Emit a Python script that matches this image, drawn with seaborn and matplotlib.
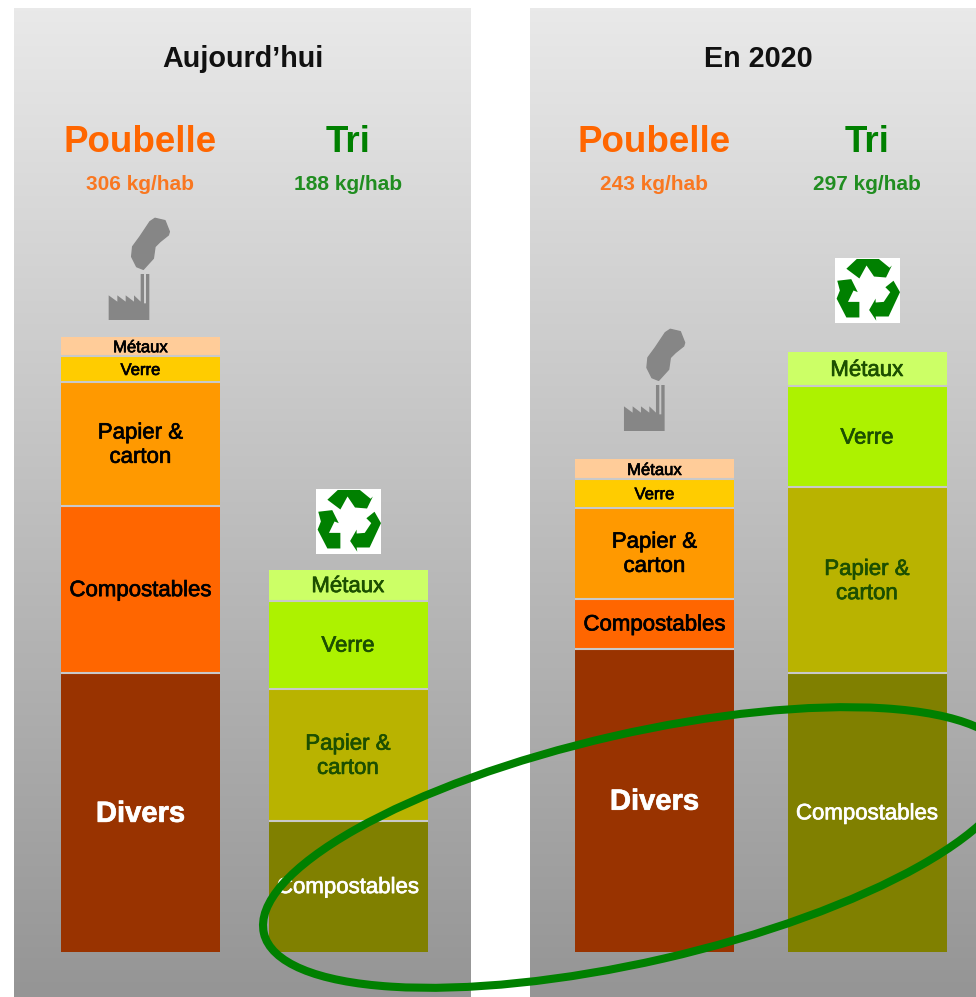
import numpy as np
import pandas as pd
import matplotlib
matplotlib.use("Agg")
import matplotlib.pyplot as plt
import matplotlib.patheffects as pe
from matplotlib.colors import LinearSegmentedColormap
from matplotlib.patches import Ellipse, Polygon, Rectangle
import seaborn as sns

# values, kg per inhabitant
layers = ["Divers", "Compostables", "Papier &\ncarton", "Verre", "Métaux"]
today_poubelle = [138, 83, 61, 13, 9.5]
today_tri = [0, 65, 65, 44, 15]
future_poubelle = [150, 25, 45, 14, 10]
future_tri = [0, 138, 92, 50, 17]

panel_titles = ["Aujourd’hui", "En 2020"]
stream_names = ["Poubelle", "Tri"]
today_totals = ["306 kg/hab", "188 kg/hab"]
future_totals = ["243 kg/hab", "297 kg/hab"]

poubelle_colors = ["#993300", "#ff6600", "#ff9900", "#ffcc00", "#ffcc99"]
tri_colors = ["#808000", "#808000", "#b9b300", "#adf200", "#ccff66"]
poubelle_text = ["white", "black", "black", "black", "black"]
tri_text = ["white", "white", "#1c4f00", "#1c4f00", "#1c4f00"]
ORANGE = "#ff6600"
GREEN = "#008000"

W, H = 976, 997
PX_PER_KG = 2.02
BASE_Y = 952
PANEL_TOP = 8

sns.set_theme(style="white")
plt.rcParams["font.family"] = ["Liberation Sans", "DejaVu Sans"]

fig = plt.figure(figsize=(W / 100, H / 100), dpi=100, facecolor="white")
grey_map = LinearSegmentedColormap.from_list("bg", ["#e9e9e9", "#959595"])


def label_size(j, value):
    # thin pieces carry smaller text, Divers is the big one
    if j == 0:
        return 21
    if value <= 14 and j >= 3:
        return 12
    return 16


def draw_panel(left, right, first_bar, bar_step, poubelle, tri, title, totals):
    ax = fig.add_axes([left / W, 0, (right - left) / W, (H - PANEL_TOP) / H])
    ylim = ((BASE_Y - H) / PX_PER_KG, (BASE_Y - PANEL_TOP) / PX_PER_KG)
    ax.imshow(np.linspace(0, 1, 256).reshape(-1, 1), cmap=grey_map, aspect="auto",
              extent=[-5, 5, ylim[0], ylim[1]], zorder=0, vmin=0, vmax=1)
    half = 159 / bar_step / 2
    for i, (stream, values, colors, text_colors) in enumerate(
            [("Poubelle", poubelle, poubelle_colors, poubelle_text),
             ("Tri", tri, tri_colors, tri_text)]):
        bottom = 0
        for j, value in enumerate(values):
            if value == 0:
                continue
            layer = pd.DataFrame({"stream": [stream], "kg": [value]})
            sns.barplot(data=layer, x="stream", y="kg", order=stream_names, color=colors[j],
                        saturation=1, width=2 * half, bottom=bottom, ax=ax, linewidth=0, zorder=2)
            if bottom > 0:
                ax.hlines(bottom, i - half, i + half, color="#c9c9c9", lw=1.5, zorder=2.5)
            weight = "bold" if j == 0 else "normal"
            ax.text(i, bottom + value / 2 - 0.6, layers[j], ha="center", va="center", color=text_colors[j],
                    fontsize=label_size(j, value), fontweight=weight, zorder=3, linespacing=1.2,
                    path_effects=[pe.withStroke(linewidth=0.5, foreground=text_colors[j])])
            bottom += value
    ax.set_xlim((left - first_bar) / bar_step, (right - first_bar) / bar_step)
    ax.set_ylim(*ylim)
    ax.set_axis_off()

    def frac(py):
        return (H - py) / (H - PANEL_TOP)

    trans = ax.get_xaxis_transform()
    mid = (left + 228.5 - first_bar) / bar_step
    ax.text(mid, frac(59), title, transform=trans, ha="center", va="center",
            fontsize=20.7, fontweight="bold", color="#111111")
    for i, (name, color) in enumerate(zip(stream_names, [ORANGE, GREEN])):
        ax.text(i, frac(142), name, transform=trans, ha="center", va="center",
                fontsize=26.5, fontweight="bold", color=color)
        ax.text(i, frac(184), totals[i], transform=trans, ha="center", va="center",
                fontsize=15, fontweight="bold", color=color, alpha=0.85)


draw_panel(14, 471, 140.5, 207.5, today_poubelle, today_tri, panel_titles[0], today_totals)
draw_panel(530, 976, 654.5, 212.5, future_poubelle, future_tri, panel_titles[1], future_totals)

# overlay in pixel coordinates for the pictograms and the ellipse
over = fig.add_axes([0, 0, 1, 1], zorder=10)
over.set_xlim(0, W)
over.set_ylim(H, 0)
over.set_axis_off()
over.patch.set_alpha(0)

SMOKE_GREY = "#868686"
smoke = np.array([(345, 55), (375, 62), (388, 95), (385, 105), (360, 125), (345, 140), (340, 175),
                  (310, 208), (290, 200), (275, 170), (278, 140), (300, 110), (330, 65)]) / 3 + (40, 200)
factory = np.array([(206, 360), (206, 286), (232, 305), (232, 286), (257, 305), (257, 286), (282, 305),
                    (282, 286), (302, 305), (302, 222), (312, 222), (312, 310), (318, 310), (318, 222),
                    (328, 222), (328, 360)]) / 3 + (40, 200)


def draw_factory(dx, dy):
    over.add_patch(Polygon(smoke + (dx, dy), closed=True, fc=SMOKE_GREY, ec=SMOKE_GREY, lw=1, joinstyle="round"))
    over.add_patch(Polygon(factory + (dx, dy), closed=True, fc=SMOKE_GREY, ec="none"))


recycle_arrows = [
    [(200, 58), (232, 28), (300, 28), (333, 55), (340, 48), (322, 85), (285, 82), (262, 48), (240, 88)],
    [(172, 95), (215, 90), (235, 130), (222, 125), (205, 160), (240, 160), (240, 208), (200, 208),
     (170, 150), (180, 125)],
    [(345, 95), (365, 130), (330, 205), (290, 205), (292, 218), (270, 185), (290, 150), (290, 162),
     (315, 160), (335, 130), (320, 115)],
]


def draw_recycle(cx, cy, half):
    over.add_patch(Rectangle((cx - half, cy - half), 2 * half, 2 * half, fc="white", ec="none"))
    for arrow in recycle_arrows:
        pts = (np.array(arrow) - (265, 125)) / 98 * half * 0.98 + (cx, cy)
        over.add_patch(Polygon(pts, closed=True, fc=GREEN, ec="none"))


draw_factory(0, 0)
draw_factory(515.3, 111)
draw_recycle(348.5, 521.5, 32.5)
draw_recycle(867.5, 290.5, 32.5)

over.add_patch(Ellipse((638, 847.5), 2 * 383.8, 2 * 114, angle=-12.9, fc="none", ec=GREEN, lw=5.8))

fig.savefig("out.png", dpi=100, facecolor="white")
